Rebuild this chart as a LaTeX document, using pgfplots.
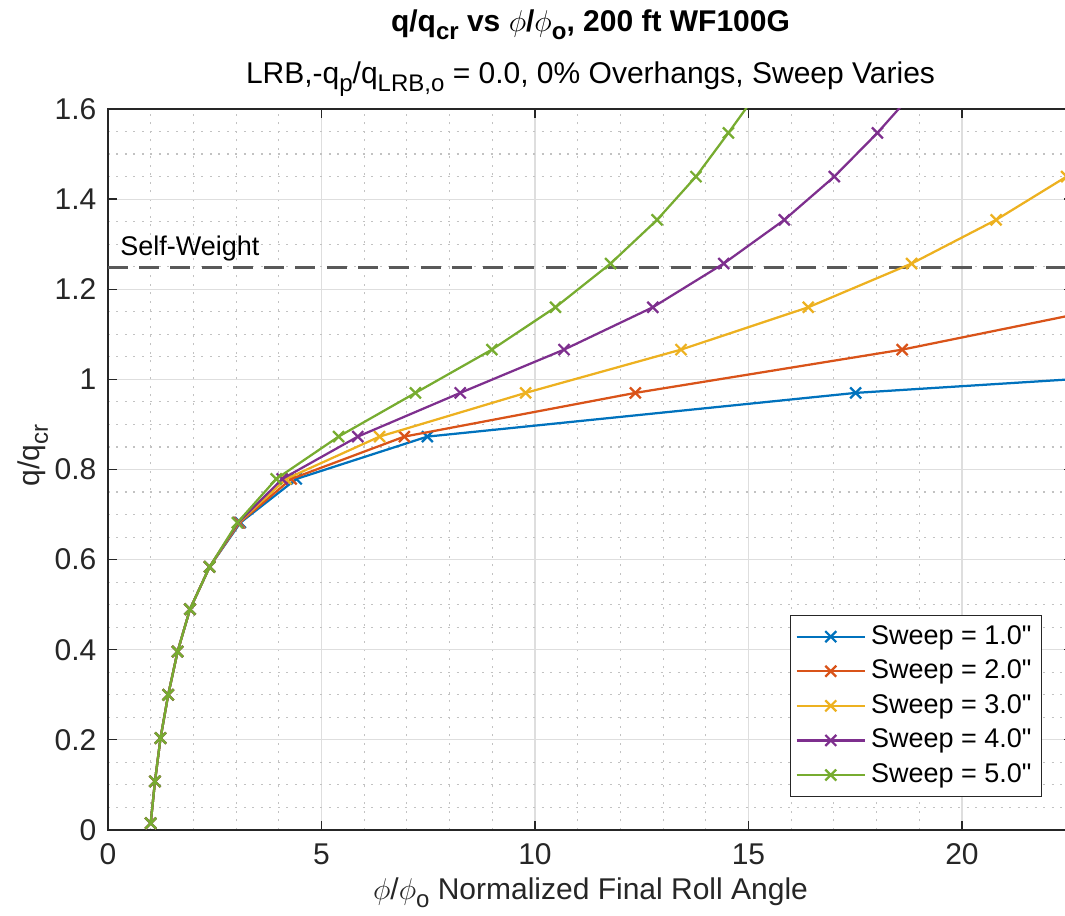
\documentclass[border=0pt]{standalone}
\usepackage{fontspec}
\setmainfont{Liberation Sans}[Ligatures=TeXOff]
\usepackage{graphicx}
\usepackage{pgfplots}
\pgfplotsset{compat=1.18}
\definecolor{mblue}{rgb}{0,0.447,0.741}
\definecolor{morange}{rgb}{0.85,0.325,0.098}
\definecolor{myellow}{rgb}{0.929,0.694,0.125}
\definecolor{mpurple}{rgb}{0.494,0.184,0.556}
\definecolor{mgreen}{rgb}{0.466,0.674,0.188}
\definecolor{axgray}{rgb}{0.15,0.15,0.15}
\definecolor{gridmaj}{rgb}{0.87,0.87,0.87}
\definecolor{gridmin}{rgb}{0.76,0.76,0.76}
\newcommand\sub[1]{\raisebox{-0.5ex}{\scalebox{0.8}{#1}}}
\begin{document}
\begin{tikzpicture}
\begin{axis}[
  scale only axis, width=386pt, height=288.4pt,
  xmin=0, xmax=22.6, ymin=0, ymax=1.6,
  clip mode=individual,
  xtick={0,5,10,15,20},
  ytick={0,0.2,0.4,0.6,0.8,1,1.2,1.4,1.6},
  minor x tick num=4, minor y tick num=3,
  grid=both,
  major grid style={color=gridmaj, line width=0.45pt},
  minor grid style={color=gridmin, line width=0.45pt, dash pattern=on 0.8pt off 2.6pt},
  tick align=inside, major tick length=3.6pt, minor tick length=0pt,
  axis line style={axgray, line width=0.5pt},
  tick style={axgray, line width=0.5pt},
  /pgf/number format/assume math mode=true,
  tick label style={font=\fontsize{12}{14}\selectfont, text=axgray},
  xticklabel style={yshift=-1.9pt},
  yticklabel style={xshift=-1.1pt},
  every axis plot/.append style={line width=0.9pt, mark size=3.1pt},
  legend style={at={(0.968,0.0458)}, anchor=south east, draw=axgray, line width=0.5pt,
    font=\fontsize{10.8}{13}\selectfont, cells={anchor=west}, row sep=0.8pt, inner sep=2pt},
  legend image code/.code={\draw (0cm,0cm) -- (0.96cm,0cm); \draw plot coordinates {(0.48cm,0cm)};},
]
\addplot[forget plot, color=black!65, line width=1.1pt, dash pattern=on 8pt off 4.5pt] coordinates {(0,1.249) (22.6,1.249)};

\addplot[mblue, mark=x, mark indices={1,...,11}] coordinates {
(1.00,0.015) (1.10,0.108) (1.23,0.204) (1.41,0.300) (1.63,0.396) (1.92,0.490) (2.38,0.584)
(3.10,0.682) (4.41,0.779) (7.48,0.873) (17.51,0.970) (22.7,1.001)};
\addlegendentry{Sweep = 1.0"}
\addplot[morange, mark=x, mark indices={1,...,12}] coordinates {
(1.00,0.015) (1.10,0.108) (1.23,0.204) (1.41,0.300) (1.63,0.396) (1.92,0.490) (2.38,0.584)
(3.08,0.682) (4.29,0.779) (6.94,0.873) (12.35,0.970) (18.60,1.066) (22.7,1.145)};
\addlegendentry{Sweep = 2.0"}
\addplot[myellow, mark=x] coordinates {
(1.00,0.015) (1.10,0.108) (1.23,0.204) (1.41,0.300) (1.63,0.396) (1.92,0.490) (2.38,0.584)
(3.06,0.682) (4.17,0.779) (6.36,0.873) (9.78,0.970) (13.42,1.066) (16.40,1.160) (18.82,1.257)
(20.80,1.354) (22.45,1.450)};
\addlegendentry{Sweep = 3.0"}
\addplot[mpurple, mark=x, mark indices={1,...,17}] coordinates {
(1.00,0.015) (1.10,0.108) (1.23,0.204) (1.41,0.300) (1.63,0.396) (1.92,0.490) (2.38,0.584)
(3.05,0.682) (4.08,0.779) (5.85,0.873) (8.25,0.970) (10.68,1.066) (12.76,1.160) (14.42,1.257)
(15.84,1.354) (17.01,1.450) (18.02,1.547) (18.92,1.643)};
\addlegendentry{Sweep = 4.0"}
\addplot[mgreen, mark=x, mark indices={1,...,17}] coordinates {
(1.00,0.015) (1.10,0.108) (1.23,0.204) (1.41,0.300) (1.63,0.396) (1.92,0.490) (2.38,0.584)
(3.03,0.682) (3.94,0.779) (5.40,0.873) (7.20,0.970) (8.99,1.066) (10.48,1.160) (11.77,1.257)
(12.86,1.354) (13.77,1.450) (14.53,1.547) (15.26,1.643)};
\addlegendentry{Sweep = 5.0"}

\node[anchor=base west, font=\fontsize{10.8}{13}\selectfont, inner sep=0pt] at (axis cs:0.28,1.2756) {Self-Weight};

\node[anchor=base, font=\fontsize{12}{14}\selectfont\bfseries, inner sep=0pt, yshift=30.8pt] at (axis description cs:0.5,1) {q/q\sub{cr} vs $\phi$/$\phi$\sub{o}, 200 ft WF100G};
\node[anchor=base, font=\fontsize{12}{14}\selectfont, inner sep=0pt, yshift=10pt] at (axis description cs:0.5,1) {LRB,-q\sub{p}/q\sub{LRB,o} = 0.0, 0\% Overhangs, Sweep Varies};
\node[anchor=base, font=\fontsize{12}{14}\selectfont, inner sep=0pt, text=axgray, yshift=-28pt] at (axis description cs:0.5,0) {$\phi$/$\phi$\sub{o} Normalized Final Roll Angle};
\node[anchor=base, rotate=90, font=\fontsize{12}{14}\selectfont, inner sep=0pt, text=axgray] at (axis description cs:-0.0705,0.519) {q/q\sub{cr}};
\end{axis}
\pgfresetboundingbox
\path[use as bounding box] ([xshift=-43.2pt,yshift=-34.4pt]current axis.south west) rectangle ([xshift=382.8pt,yshift=332pt]current axis.south west);
\end{tikzpicture}
\end{document}
